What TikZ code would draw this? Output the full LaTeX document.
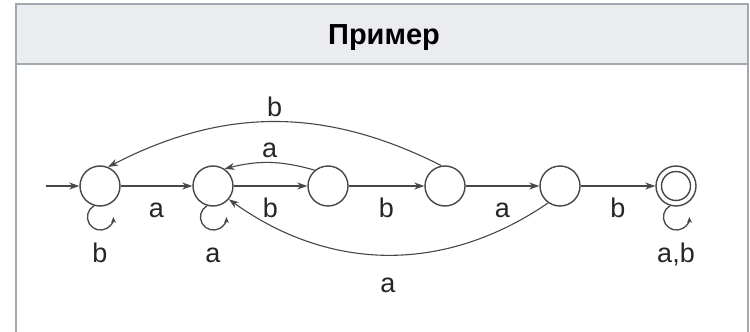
\documentclass[tikz,border=0pt]{standalone}
\usepackage{fontspec}
\setmainfont{Liberation Sans}
\usetikzlibrary{arrows.meta,positioning}
\definecolor{headfill}{HTML}{EAECF0}
\definecolor{frameline}{HTML}{A2A9B1}
\definecolor{inkgray}{HTML}{474747}
\tikzset{state/.style={draw=inkgray, line width=1.4pt, circle, minimum size=40pt, inner sep=0pt},
	accept/.style={path picture={\draw[inkgray,line width=1.4pt](path picture bounding box.center)circle(14.5pt);}},
	arrow/.style={draw=inkgray,line width=1.1pt,-{Stealth[length=10pt,width=7pt]}},
	looparrow/.style={draw=inkgray,line width=1.3pt,-{Stealth[length=6pt,width=5pt]}},
	lbl/.style={font=\fontsize{27}{30}\selectfont, text=black!85, inner sep=0pt, text height=20pt, text depth=5pt}}

\begin{document}
\begin{tikzpicture}[x=1pt,y=1pt]
	\useasboundingbox(0,0)rectangle(750,-332);
	\fill[white](0,0)rectangle(750,-332);
	% frame with header
	\draw[frameline,line width=2pt,fill=headfill](16,-4)rectangle(748,-64);
	\draw[frameline,line width=2pt](16,-64)--(16,-333)(748,-64)--(748,-333);
	\node(title)at(384,-38){\fontsize{29}{32}\selectfont\bfseries Пример};
	
	% states
	\foreach \n/\x in{0/100,1/213,2/328,3/445,4/560}
	\node[state](q\n)at(\x,-186){};
	\node[state,accept](q5)at(676,-186){};
	\coordinate(start)at(46,-186);
	
	\draw[arrow](start)--(q0);
	\foreach \a/\b/\t in{0/1/a,1/2/b,2/3/b,3/4/a,4/5/b}
	\draw[arrow](q\a)--node[lbl,below=11pt]{\t}(q\b);
	% self loops
	\foreach \n/\t in{0/b,1/a,5/{a,b}}
	{\draw[looparrow](q\n.-107)arc[start angle=120,end angle=360,radius=13pt];
		\node[lbl,below=36pt of q\n]{\t};}
	
	% back edges
	\draw[arrow](q2.130)to[bend right=15]node[lbl,above=0pt]{a}(q1.56);
	\draw[arrow](q3.100)to[bend right=27]node[lbl,above=0pt]{b}(q0.67);
	\draw[arrow](q4.235)to[bend left=35]node[lbl,below=17pt]{a}(q1.-40);
\end{tikzpicture}
\end{document}
